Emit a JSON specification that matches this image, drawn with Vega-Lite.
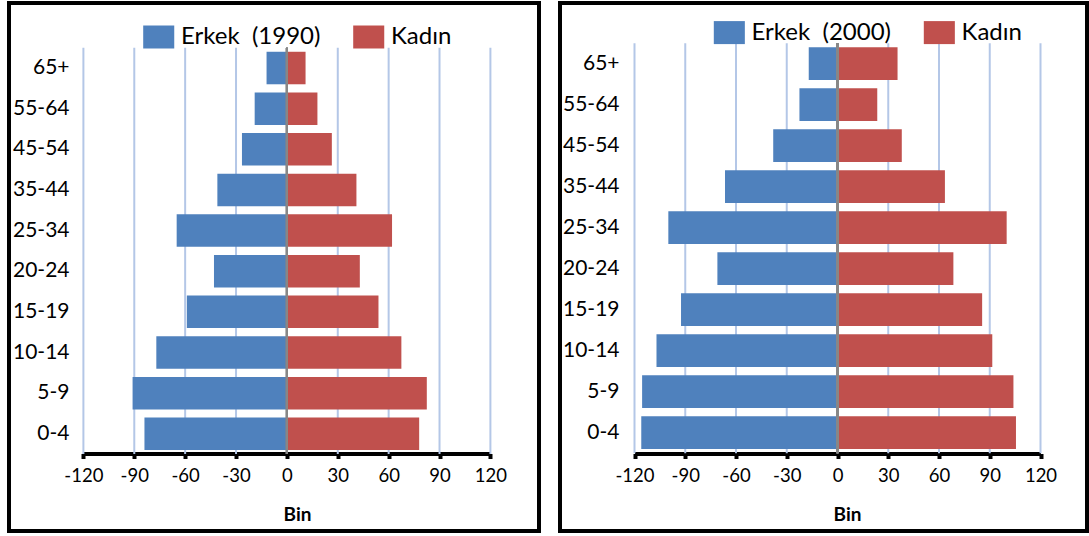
{
  "$schema": "https://vega.github.io/schema/vega-lite/v6.json",
  "background": "white",
  "padding": {"left": 7, "top": 1, "right": 0, "bottom": 0},
  "spacing": 17,
  "config": {
    "font": "Lato",
    "view": {"stroke": "black", "strokeWidth": 4},
    "legend": {"labelFont": "Lato"},
    "axis": {"labelFont": "Lato", "titleFont": "Lato"}
  },
  "datasets": {
    "p1990": [
      {"age": "65+", "sex": "Erkek", "value": -12}, {"age": "65+", "sex": "Kadın", "value": 11},
      {"age": "55-64", "sex": "Erkek", "value": -19}, {"age": "55-64", "sex": "Kadın", "value": 18},
      {"age": "45-54", "sex": "Erkek", "value": -26.5}, {"age": "45-54", "sex": "Kadın", "value": 26.5},
      {"age": "35-44", "sex": "Erkek", "value": -41}, {"age": "35-44", "sex": "Kadın", "value": 41},
      {"age": "25-34", "sex": "Erkek", "value": -65}, {"age": "25-34", "sex": "Kadın", "value": 62},
      {"age": "20-24", "sex": "Erkek", "value": -43}, {"age": "20-24", "sex": "Kadın", "value": 43},
      {"age": "15-19", "sex": "Erkek", "value": -59}, {"age": "15-19", "sex": "Kadın", "value": 54},
      {"age": "10-14", "sex": "Erkek", "value": -77}, {"age": "10-14", "sex": "Kadın", "value": 67.5},
      {"age": "5-9", "sex": "Erkek", "value": -91}, {"age": "5-9", "sex": "Kadın", "value": 82.5},
      {"age": "0-4", "sex": "Erkek", "value": -84}, {"age": "0-4", "sex": "Kadın", "value": 78}
    ],
    "p2000": [
      {"age": "65+", "sex": "Erkek", "value": -17}, {"age": "65+", "sex": "Kadın", "value": 35.5},
      {"age": "55-64", "sex": "Erkek", "value": -22.5}, {"age": "55-64", "sex": "Kadın", "value": 23.5},
      {"age": "45-54", "sex": "Erkek", "value": -38}, {"age": "45-54", "sex": "Kadın", "value": 38},
      {"age": "35-44", "sex": "Erkek", "value": -66.5}, {"age": "35-44", "sex": "Kadın", "value": 63.5},
      {"age": "25-34", "sex": "Erkek", "value": -100}, {"age": "25-34", "sex": "Kadın", "value": 100},
      {"age": "20-24", "sex": "Erkek", "value": -71}, {"age": "20-24", "sex": "Kadın", "value": 68.5},
      {"age": "15-19", "sex": "Erkek", "value": -92.5}, {"age": "15-19", "sex": "Kadın", "value": 85.5},
      {"age": "10-14", "sex": "Erkek", "value": -107}, {"age": "10-14", "sex": "Kadın", "value": 91.5},
      {"age": "5-9", "sex": "Erkek", "value": -115.5}, {"age": "5-9", "sex": "Kadın", "value": 104},
      {"age": "0-4", "sex": "Erkek", "value": -116}, {"age": "0-4", "sex": "Kadın", "value": 105.5}
    ],
    "grid": [{"g": -120}, {"g": -90}, {"g": -60}, {"g": -30}, {"g": 30}, {"g": 60}, {"g": 90}, {"g": 120}]
  },
  "resolve": {
    "scale": {"x": "independent", "y": "independent", "color": "independent"},
    "legend": {"color": "independent"}
  },
  "hconcat": [
    {
      "width": 530,
      "height": 528,
      "layer": [
        {
          "data": {"name": "grid"},
          "mark": {"type": "rule", "color": "#B4C7E7", "strokeWidth": 2},
          "encoding": {
            "x": {"field": "g", "type": "quantitative"},
            "y": {"datum": 0, "type": "quantitative", "scale": {"domain": [0, 1], "range": [44.7, 451.1]}, "axis": null},
            "y2": {"datum": 1}
          }
        },
        {
          "data": {"name": "p1990"},
          "mark": {"type": "bar"},
          "encoding": {
            "y": {
              "field": "age", "type": "nominal",
              "scale": {"domain": ["65+", "55-64", "45-54", "35-44", "25-34", "20-24", "15-19", "10-14", "5-9", "0-4"], "range": [44.7, 451.1], "paddingInner": 0.2, "paddingOuter": 0.1},
              "axis": {"orient": "left", "offset": -60, "domain": false, "ticks": false, "grid": false, "labelPadding": 0, "labelFontSize": 21, "labelColor": "black", "labelAlign": "right", "labelBaseline": "middle", "title": null}
            },
            "x": {
              "field": "value", "type": "quantitative", "stack": null,
              "scale": {"domain": [-120, 120], "range": [74.4, 481.4], "nice": false, "zero": false},
              "axis": {"values": [-120, -90, -60, -30, 0, 30, 60, 90, 120], "grid": false, "offset": -77.5, "domainColor": "black", "domainWidth": 4, "tickColor": "black", "tickWidth": 4, "tickSize": 5, "labelFontSize": 18.5, "labelColor": "black", "labelPadding": 8, "labelFlush": false, "labelOverlap": false, "labelExpr": "datum.value < 0 ? '-' + abs(datum.value) : '' + datum.value", "title": "Bin", "titleFontSize": 19, "titleFontWeight": "bold", "titleColor": "black", "titleX": 288, "titleY": 66.5, "titleBaseline": "alphabetic"}
            },
            "color": {
              "field": "sex", "type": "nominal",
              "scale": {"domain": ["Erkek", "Kadın"], "range": ["#4F81BD", "#C0504D"]},
              "legend": {"orient": "none", "legendX": 133.7, "legendY": 22, "direction": "horizontal", "title": null, "symbolType": "M-1,-1H1.7V1H-1Z", "symbolSize": 529, "symbolStrokeWidth": 0, "symbolOpacity": 1, "labelFontSize": 24, "labelColor": "black", "labelOffset": 14.3, "columnPadding": 32, "labelLimit": 0, "labelExpr": "datum.label == 'Erkek' ? 'Erkek\u00a0\u00a0(1990)' : datum.label",
                "encode": {"symbols": {"update": {"fill": {"signal": "datum.value == 'Erkek' ? '#4292D1' : '#C0504D'"}}}}}
            }
          }
        },
        {
          "data": {"name": "grid"},
          "mark": {"type": "rule", "color": "#878787", "strokeWidth": 2},
          "encoding": {
            "x": {"datum": 0, "type": "quantitative"},
            "y": {"datum": 0, "type": "quantitative", "scale": {"domain": [0, 1], "range": [44.7, 451.1]}, "axis": null},
            "y2": {"datum": 1}
          }
        }
      ],
      "resolve": {"scale": {"y": "independent"}}
    },
    {
      "width": 527,
      "height": 528,
      "layer": [
        {
          "data": {"name": "grid"},
          "mark": {"type": "rule", "color": "#B4C7E7", "strokeWidth": 2},
          "encoding": {
            "x": {"field": "g", "type": "quantitative"},
            "y": {"datum": 0, "type": "quantitative", "scale": {"domain": [0, 1], "range": [40.2, 450.2]}, "axis": null},
            "y2": {"datum": 1}
          }
        },
        {
          "data": {"name": "p2000"},
          "mark": {"type": "bar"},
          "encoding": {
            "y": {
              "field": "age", "type": "nominal",
              "scale": {"domain": ["65+", "55-64", "45-54", "35-44", "25-34", "20-24", "15-19", "10-14", "5-9", "0-4"], "range": [40.2, 450.2], "paddingInner": 0.2, "paddingOuter": 0.1},
              "axis": {"orient": "left", "offset": -59, "domain": false, "ticks": false, "grid": false, "labelPadding": 0, "labelFontSize": 21, "labelColor": "black", "labelAlign": "right", "labelBaseline": "middle", "title": null}
            },
            "x": {
              "field": "value", "type": "quantitative", "stack": null,
              "scale": {"domain": [-120, 120], "range": [74.5, 480.5], "nice": false, "zero": false},
              "axis": {"values": [-120, -90, -60, -30, 0, 30, 60, 90, 120], "grid": false, "offset": -77.5, "domainColor": "black", "domainWidth": 4, "tickColor": "black", "tickWidth": 4, "tickSize": 5, "labelFontSize": 18.5, "labelColor": "black", "labelPadding": 8, "labelFlush": false, "labelOverlap": false, "labelExpr": "datum.value < 0 ? '-' + abs(datum.value) : '' + datum.value", "title": "Bin", "titleFontSize": 19, "titleFontWeight": "bold", "titleColor": "black", "titleX": 287, "titleY": 66.5, "titleBaseline": "alphabetic"}
            },
            "color": {
              "field": "sex", "type": "nominal",
              "scale": {"domain": ["Erkek", "Kadın"], "range": ["#4F81BD", "#C0504D"]},
              "legend": {"orient": "none", "legendX": 153.3, "legendY": 17.6, "direction": "horizontal", "title": null, "symbolType": "M-1,-1H1.7V1H-1Z", "symbolSize": 529, "symbolStrokeWidth": 0, "symbolOpacity": 1, "labelFontSize": 24, "labelColor": "black", "labelOffset": 14.3, "columnPadding": 32, "labelLimit": 0, "labelExpr": "datum.label == 'Erkek' ? 'Erkek\u00a0\u00a0(2000)' : datum.label",
                "encode": {"symbols": {"update": {"fill": {"signal": "datum.value == 'Erkek' ? '#4292D1' : '#C0504D'"}}}}}
            }
          }
        },
        {
          "data": {"name": "grid"},
          "mark": {"type": "rule", "color": "#878787", "strokeWidth": 2},
          "encoding": {
            "x": {"datum": 0, "type": "quantitative"},
            "y": {"datum": 0, "type": "quantitative", "scale": {"domain": [0, 1], "range": [40.2, 450.2]}, "axis": null},
            "y2": {"datum": 1}
          }
        }
      ],
      "resolve": {"scale": {"y": "independent"}}
    }
  ]
}
